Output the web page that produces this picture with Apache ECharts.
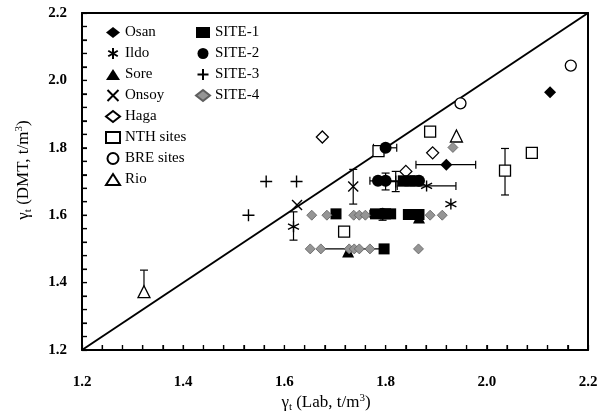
<!DOCTYPE html>
<html>
<head>
<meta charset="utf-8">
<script src="https://cdn.jsdelivr.net/npm/echarts@6/dist/echarts.min.js"></script>
<style>
  html, body { margin: 0; padding: 0; background: #fff; }
  #chart { width: 609px; height: 417px; }
</style>
</head>
<body>
<div id="chart"></div>
<script>
// Unit weight: DMT-estimated vs laboratory (t/m3)
const xTicks = [1.2, 1.4, 1.6, 1.8, 2.0, 2.2];
const yTicks = [1.2, 1.4, 1.6, 1.8, 2.0, 2.2];
const minorStep = 0.04;
const diagonal = [[1.2, 1.2], [2.2, 2.2]];

const osan = [[1.920, 1.750], [2.125, 1.965]];
const ildo = [[1.618, 1.566], [1.881, 1.687], [1.929, 1.633]];
const sore = [[1.726, 1.492], [1.866, 1.593]];
const onsoy = [[1.625, 1.630], [1.736, 1.685]];
const haga = [[1.675, 1.832], [1.840, 1.730], [1.893, 1.785]];
const nthSites = [[1.718, 1.551], [1.786, 1.790], [1.888, 1.848], [2.036, 1.732], [2.089, 1.785]];
const breSites = [[1.948, 1.932], [2.166, 2.044]];
const rio = [[1.3225, 1.373], [1.940, 1.835]];

const site1 = [[1.702, 1.604], [1.780, 1.604], [1.800, 1.604], [1.810, 1.604],
               [1.845, 1.602], [1.856, 1.602], [1.866, 1.602], [1.797, 1.500],
               [1.835, 1.702], [1.848, 1.702], [1.858, 1.702]];
const site2 = [[1.800, 1.800], [1.785, 1.702], [1.800, 1.702], [1.866, 1.702], [1.794, 1.604]];
const site3 = [[1.529, 1.600], [1.564, 1.700], [1.624, 1.700], [1.800, 1.702], [1.820, 1.700]];
const site4 = [[1.654, 1.600], [1.684, 1.600], [1.737, 1.600], [1.748, 1.600], [1.760, 1.600],
               [1.888, 1.600], [1.912, 1.600], [1.651, 1.500], [1.672, 1.500], [1.728, 1.500],
               [1.738, 1.500], [1.748, 1.500], [1.769, 1.500], [1.865, 1.500], [1.933, 1.801]];
const site4Link = [[1.672, 1.500], [1.800, 1.500]];

// horizontal error bars: [y, xLow, xHigh]
const xErrorBars = [[1.750, 1.860, 1.978], [1.687, 1.823, 1.939], [1.800, 1.776, 1.822],
                    [1.702, 1.769, 1.871], [1.604, 1.769, 1.819]];
// vertical error bars: [x, yLow, yHigh]
const yErrorBars = [[2.036, 1.660, 1.798], [1.3225, 1.360, 1.437], [1.736, 1.633, 1.736],
                    [1.618, 1.526, 1.610], [1.800, 1.675, 1.725], [1.820, 1.670, 1.730],
                    [1.794, 1.585, 1.615]];

const SERIF = '"Liberation Serif", "Times New Roman", serif';
const ASTERISK = 'path://M0,-10L0,10M-8.66,-5L8.66,5M-8.66,5L8.66,-5';
const CROSS = 'path://M-10,-10L10,10M-10,10L10,-10';
const PLUS = 'path://M0,-10L0,10M-10,0L10,0';

const filled = { color: '#000', opacity: 1 };
const hollow = { color: '#fff', borderColor: '#000', borderWidth: 1.3, opacity: 1 };
const stroked = { color: '#000', borderColor: '#000', borderWidth: 1.4, opacity: 1 };
const grey = { color: '#959595', borderColor: '#5e5e5e', borderWidth: 0.8, opacity: 1 };

function points(name, data, symbol, size, style) {
  return {
    type: 'scatter', name: name, data: data, symbol: symbol, symbolSize: size,
    itemStyle: style, z: 4, emphasis: { disabled: true }
  };
}

const CAP = 4;
const barStyle = { stroke: '#000', lineWidth: 1.2 };
function seg(x1, y1, x2, y2, style) {
  return { type: 'line', shape: { x1: x1, y1: y1, x2: x2, y2: y2 }, style: style };
}
function hBar(params, api) {
  const y = api.value(0);
  const a = api.coord([api.value(1), y]);
  const b = api.coord([api.value(2), y]);
  return { type: 'group', children: [
    seg(a[0], a[1], b[0], b[1], barStyle),
    seg(a[0], a[1] - CAP, a[0], a[1] + CAP, barStyle),
    seg(b[0], b[1] - CAP, b[0], b[1] + CAP, barStyle)
  ]};
}
function vBar(params, api) {
  const x = api.value(0);
  const a = api.coord([x, api.value(1)]);
  const b = api.coord([x, api.value(2)]);
  return { type: 'group', children: [
    seg(a[0], a[1], b[0], b[1], barStyle),
    seg(a[0] - CAP, a[1], a[0] + CAP, a[1], barStyle),
    seg(b[0] - CAP, b[1], b[0] + CAP, b[1], barStyle)
  ]};
}

const legendText = { fontFamily: SERIF, fontSize: 15, color: '#000', lineHeight: 15 };
const nameRich = {
  a: { fontFamily: SERIF, fontSize: 17, fontWeight: 'normal', color: '#000', lineHeight: 20 },
  s: { fontFamily: SERIF, fontSize: 11, fontWeight: 'normal', color: '#000', lineHeight: 20, verticalAlign: 'bottom' },
  p: { fontFamily: SERIF, fontSize: 11, fontWeight: 'normal', color: '#000', lineHeight: 20, verticalAlign: 'top' }
};

function mainAxis(ticks, margin, position) {
  return {
    type: 'value', position: position, min: ticks[0], max: ticks[ticks.length - 1], interval: 0.2,
    axisLine: { show: true, onZero: false, lineStyle: { color: '#000', width: 2 } },
    axisTick: { show: true, inside: true, length: 5, lineStyle: { color: '#000', width: 1.2 } },
    minorTick: { show: true, splitNumber: 5, length: 5, lineStyle: { color: '#000', width: 1.2 } },
    splitLine: { show: false },
    axisLabel: { show: true, margin: margin, fontFamily: SERIF, fontWeight: 'bold', fontSize: 15,
                 color: '#000', formatter: v => v.toFixed(1) }
  };
}
function frameAxis(ticks, position) {
  return {
    type: 'value', position: position, min: ticks[0], max: ticks[ticks.length - 1], interval: 0.2,
    axisLine: { show: true, onZero: false, lineStyle: { color: '#000', width: 2 } },
    axisTick: { show: false }, axisLabel: { show: false }, splitLine: { show: false }
  };
}

const chart = echarts.init(document.getElementById('chart'));
chart.setOption({
  animation: false,
  backgroundColor: '#fff',
  grid: { left: 82, right: 21, top: 13, bottom: 67, show: false },
  xAxis: [mainAxis(xTicks, 25, 'bottom'), frameAxis(xTicks, 'top')],
  yAxis: [mainAxis(yTicks, 15, 'left'), frameAxis(yTicks, 'right')],
  legend: [
    { data: ['Osan', 'Ildo', 'Sore', 'Onsoy', 'Haga', 'NTH sites', 'BRE sites', 'Rio'],
      orient: 'vertical', left: 100, top: 20, itemWidth: 14, itemHeight: 11, itemGap: 6,
      textStyle: legendText, selectedMode: false },
    { data: ['SITE-1', 'SITE-2', 'SITE-3', 'SITE-4'],
      orient: 'vertical', left: 190, top: 20, itemWidth: 14, itemHeight: 11, itemGap: 6,
      textStyle: legendText, selectedMode: false }
  ],
  series: [
    { type: 'line', data: diagonal, symbol: 'none', lineStyle: { color: '#000', width: 2 }, z: 2, silent: true },
    { type: 'line', data: site4Link, symbol: 'none', lineStyle: { color: '#000', width: 1.2 }, z: 2, silent: true },
    { type: 'custom', renderItem: hBar, data: xErrorBars, encode: { x: [1, 2], y: 0 }, z: 3, silent: true },
    { type: 'custom', renderItem: vBar, data: yErrorBars, encode: { x: 0, y: [1, 2] }, z: 3, silent: true },
    points('Osan', osan, 'diamond', 12, filled),
    points('Ildo', ildo, ASTERISK, 11, stroked),
    points('Sore', sore, 'triangle', 12, filled),
    points('Onsoy', onsoy, CROSS, 10, stroked),
    points('Haga', haga, 'diamond', 12, hollow),
    points('NTH sites', nthSites, 'rect', 11, hollow),
    points('BRE sites', breSites, 'circle', 11, hollow),
    points('Rio', rio, 'triangle', 12, hollow),
    points('SITE-1', site1, 'rect', 11, filled),
    points('SITE-2', site2, 'circle', 12, filled),
    points('SITE-3', site3, PLUS, 12, stroked),
    points('SITE-4', site4, 'diamond', 10, grey)
  ]
});

// axis titles plus inward tick marks every minorStep, placed through the chart's own scales
const TICK = 5;
const overlay = [
  { type: 'text', id: 'xName', x: 326, y: 403, silent: true,
    style: { text: '{a|γ}{s|t}{a| (Lab, t/m}{p|3}{a|)}', rich: nameRich, align: 'center', verticalAlign: 'middle' } },
  { type: 'text', id: 'yName', x: 24, y: 170, rotation: Math.PI / 2, silent: true,
    style: { text: '{a|γ}{s|t}{a| (DMT, t/m}{p|3}{a|)}', rich: nameRich, align: 'center', verticalAlign: 'middle' } }
];
const nSteps = Math.round((xTicks[xTicks.length - 1] - xTicks[0]) / minorStep);
for (let i = 1; i < nSteps; i++) {
  const px = chart.convertToPixel({ xAxisIndex: 0, yAxisIndex: 0 }, [xTicks[0] + i * minorStep, yTicks[0]]);
  const py = chart.convertToPixel({ xAxisIndex: 0, yAxisIndex: 0 }, [xTicks[0], yTicks[0] + i * minorStep]);
  overlay.push({ type: 'line', id: 'xt' + i, silent: true, z: 10,
    shape: { x1: px[0], y1: px[1], x2: px[0], y2: px[1] - TICK }, style: { stroke: '#000', lineWidth: 1.2 } });
  overlay.push({ type: 'line', id: 'yt' + i, silent: true, z: 10,
    shape: { x1: py[0], y1: py[1], x2: py[0] + TICK, y2: py[1] }, style: { stroke: '#000', lineWidth: 1.2 } });
}
chart.setOption({ graphic: overlay });
</script>
</body>
</html>
